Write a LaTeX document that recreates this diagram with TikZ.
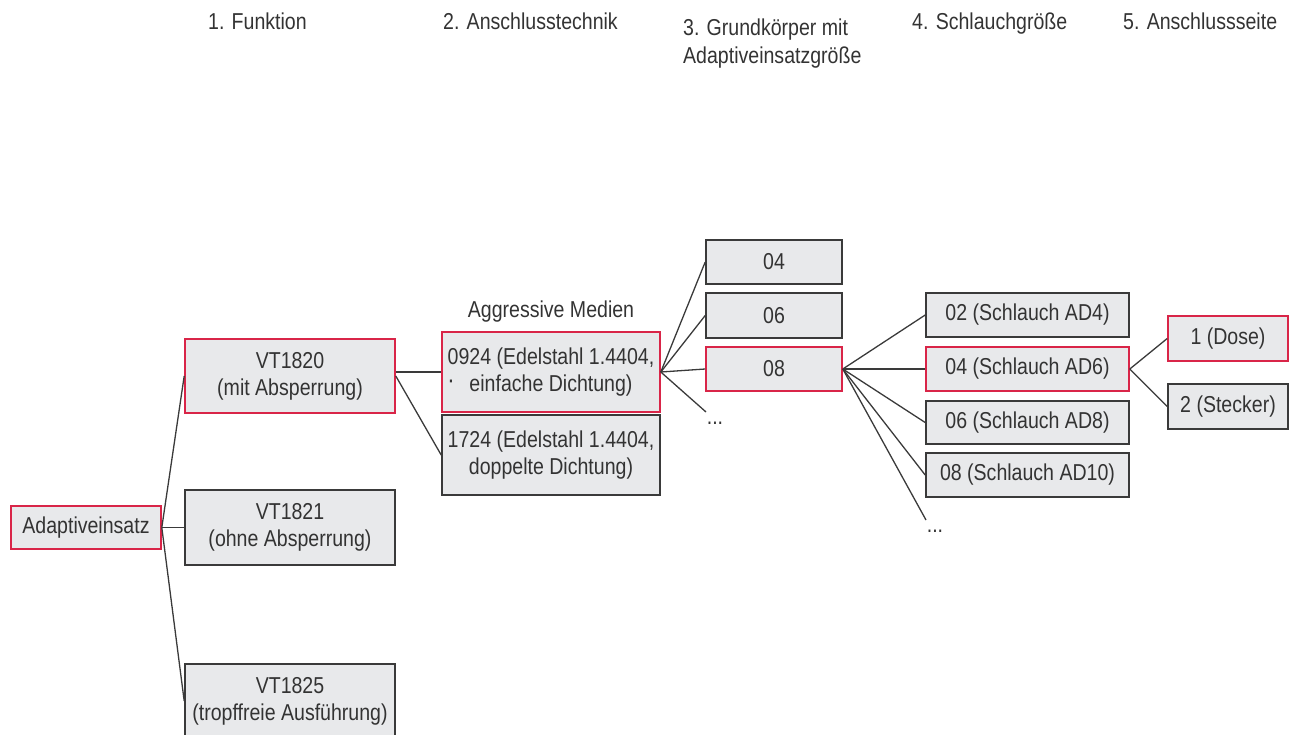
\documentclass[tikz,border=0pt]{standalone}
\usepackage{fontspec}
\setmainfont[FakeStretch=0.85]{Liberation Sans}
\definecolor{txt}{HTML}{333333}
\definecolor{boxfill}{HTML}{E8E9EB}
\definecolor{boxline}{HTML}{3A3A3A}
\definecolor{sel}{HTML}{D92548}
\begin{document}
\begin{tikzpicture}[x=1pt,y=-1pt,
  every node/.style={font=\fontsize{23}{27}\selectfont, text=txt},
  box/.style={draw=boxline, line width=1.6pt, fill=boxfill, inner sep=0pt, align=center},
  selbox/.style={box, draw=sel},
  link/.style={draw=boxline, line width=1.3pt},
  hdr/.style={anchor=base west, align=left, inner sep=0pt}]
\useasboundingbox (0,0) rectangle (1295,734);
% headers
\node[hdr] (h1) at (208,29) {1. Funktion};
\node[hdr] (h2) at (443,29) {2. Anschlusstechnik};
\node[hdr, anchor=north west, font=\fontsize{23}{28}\selectfont] (h3) at (683,19) {3. Grundkörper mit\\Adaptiveinsatzgröße};
\node[hdr] (h4) at (912,29) {4. Schlauchgröße};
\node[hdr] (h5) at (1123,29) {5. Anschlussseite};
% level 0
\node[selbox, minimum width=150, minimum height=43] (ad) at (86,527.5) {Adaptiveinsatz};
% level 1
\node[selbox, minimum width=210, minimum height=74] (v20) at (290,376) {VT1820\\(mit Absperrung)};
\node[box, minimum width=210, minimum height=75] (v21) at (290,527.5) {VT1821\\(ohne Absperrung)};
\node[box, minimum width=210, minimum height=74] (v25) at (290,701) {VT1825\\(tropffreie Ausführung)};
% level 2
\node[inner sep=0pt] (agg) at (551,312) {Aggressive Medien};
\node[selbox, minimum width=218, minimum height=80] (c0924) at (551,372) {0924 (Edelstahl 1.4404,\\einfache Dichtung)};
\node[inner sep=0pt, font=\fontsize{26}{26}\selectfont] (dot) at (451,384) {·};
\node[box, minimum width=218, minimum height=80] (c1724) at (551,455) {1724 (Edelstahl 1.4404,\\doppelte Dichtung)};
% level 3
\node[box, minimum width=136, minimum height=44] (g04) at (774,262) {04};
\node[box, minimum width=136, minimum height=45] (g06) at (774,315.5) {06};
\node[selbox, minimum width=136, minimum height=44] (g08) at (774,369) {08};
\coordinate (g3e) at (706,412);
\node[inner sep=0pt] (gdots) at (715,423) {...};
% level 4
\node[box, minimum width=203, minimum height=44] (s02) at (1027.5,315) {02 (Schlauch AD4)};
\node[selbox, minimum width=203, minimum height=44] (s04) at (1027.5,369) {04 (Schlauch AD6)};
\node[box, minimum width=203, minimum height=43] (s06) at (1027.5,422.5) {06 (Schlauch AD8)};
\node[box, minimum width=203, minimum height=44] (s08) at (1027.5,475) {08 (Schlauch AD10)};
\coordinate (s4e) at (926,520);
\node[inner sep=0pt] (sdots) at (935,531) {...};
% level 5
\node[selbox, minimum width=120, minimum height=45] (dose) at (1228,338.5) {1 (Dose)};
\node[box, minimum width=120, minimum height=45] (steck) at (1228,406.5) {2 (Stecker)};
% connectors
\draw[link] (ad.east) -- (v20.west);
\draw[link] (ad.east) -- (v21.west);
\draw[link] (ad.east) -- (v25.west);
\draw[link] (c0924.west -| v20.east) -- (c0924.west);
\draw[link] (v20.east) -- (c1724.west);
\draw[link] (c0924.east) -- (g04.west);
\draw[link] (c0924.east) -- (g06.west);
\draw[link] (c0924.east) -- (g08.west);
\draw[link] (c0924.east) -- (g3e);
\draw[link] (g08.east) -- (s02.west);
\draw[link] (g08.east) -- (s04.west);
\draw[link] (g08.east) -- (s06.west);
\draw[link] (g08.east) -- (s08.west);
\draw[link] (g08.east) -- (s4e);
\draw[link] (s04.east) -- (dose.west);
\draw[link] (s04.east) -- (steck.west);
\end{tikzpicture}
\end{document}
